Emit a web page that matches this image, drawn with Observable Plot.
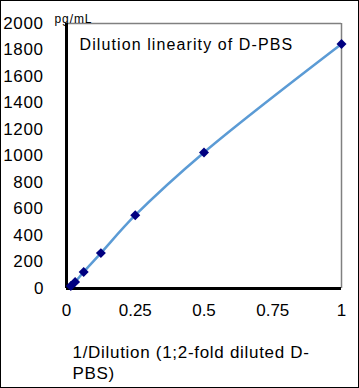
<!DOCTYPE html>
<html>
<head>
<meta charset="utf-8">
<script src="https://cdn.jsdelivr.net/npm/d3@7"></script>
<script src="https://cdn.jsdelivr.net/npm/@observablehq/plot@0.6"></script>
<style>
  html, body { margin: 0; padding: 0; background: #fff; }
  #wrap { position: relative; width: 359px; height: 388px; }
  #border { position: absolute; left: 0; top: 0; width: 359px; height: 388px; box-sizing: border-box; border: 1px solid #000; pointer-events: none; }
</style>
</head>
<body>
<div id="wrap"><div id="border"></div></div>
<script>
const dilution = [1, 0.5, 0.25, 0.125, 0.0625, 0.03125, 0.015625];
const concentration = [1845, 1027, 553, 267, 125, 50, 18];
const xTicks = [0, 0.25, 0.5, 0.75, 1];
const yTicks = [0, 200, 400, 600, 800, 1000, 1200, 1400, 1600, 1800, 2000];
const title = "Dilution linearity of D-PBS";
const unit = "pg/mL";
const xLabel = "1/Dilution (1;2-fold diluted D-\nPBS)";

const data = dilution.map((d, i) => ({x: d, y: concentration[i]}));
const font = "'Liberation Sans', Arial, sans-serif";

const chart = Plot.plot({
  width: 359,
  height: 388,
  marginLeft: 66,
  marginRight: 18,
  marginTop: 23,
  marginBottom: 100,
  style: {fontFamily: font, fontSize: "16px", color: "#000", background: "transparent"},
  x: {domain: [0, 1]},
  y: {domain: [0, 2000]},
  marks: [
    Plot.ruleY([2000], {stroke: "#808080", strokeWidth: 1.5}),
    Plot.ruleX([1], {stroke: "#808080", strokeWidth: 1.5}),
    Plot.axisX({ticks: xTicks, tickFormat: d => String(d), tickSize: 0, tickPadding: 15, fontSize: 17, label: null}),
    Plot.axisY({ticks: yTicks, tickFormat: d => String(d), tickSize: 0, tickPadding: 23, fontSize: 17, label: null}),
    Plot.line(data, {x: "x", y: "y", curve: "catmull-rom", stroke: "#5B9BD5", strokeWidth: 2.5}),
    Plot.ruleX([0], {stroke: "#000", strokeWidth: 3}),
    Plot.ruleY([0], {stroke: "#000", strokeWidth: 3}),
    Plot.dot(data, {x: "x", y: "y", symbol: "diamond2", r: 4.5, fill: "#000080", stroke: "none"}),
    Plot.text([title], {frameAnchor: "top-left", textAnchor: "start", lineAnchor: "top", dx: 13, dy: 15, fontSize: 16}),
    Plot.text([unit], {frameAnchor: "top-left", textAnchor: "start", lineAnchor: "top", dx: -12, dy: -9, fontSize: 12}),
    Plot.text([xLabel], {frameAnchor: "bottom-left", textAnchor: "start", lineAnchor: "top", dx: 6, dy: 54, fontSize: 17, lineHeight: 1.25})
  ]
});
chart.querySelectorAll("text").forEach(t => {
  const s = t.textContent;
  if (s === title) t.style.letterSpacing = "1.1px";
  else if (s === unit) t.style.letterSpacing = "0.9px";
  else if (s.startsWith("1/Dilution")) t.style.letterSpacing = "0.7px";
  else if (/^\d{3,4}$/.test(s)) t.style.letterSpacing = "0.6px";
});
document.getElementById("wrap").prepend(chart);
</script>
</body>
</html>
